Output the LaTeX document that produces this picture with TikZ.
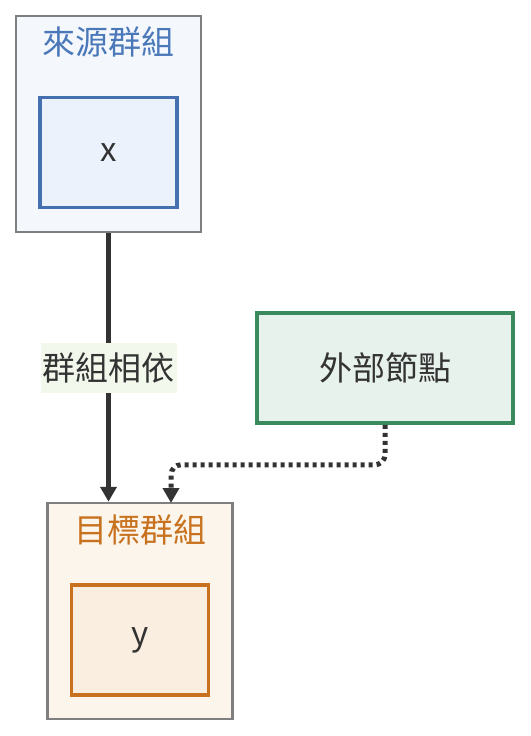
\documentclass[tikz,border=0pt]{standalone}
\usepackage{fontspec}
\setmainfont{Noto Sans CJK TC}
\usepackage{xcolor}
\usetikzlibrary{arrows.meta}

\definecolor{grpline}{HTML}{7F7F7F}
\definecolor{srcfill}{HTML}{F4F8FD}
\definecolor{srcline}{HTML}{4470B0}
\definecolor{srcnode}{HTML}{EBF2FB}
\definecolor{srctext}{HTML}{4A78B8}
\definecolor{tgtfill}{HTML}{FCF5EC}
\definecolor{tgtline}{HTML}{C8721F}
\definecolor{tgtnode}{HTML}{FAEEE0}
\definecolor{extfill}{HTML}{E8F2EC}
\definecolor{extline}{HTML}{3A8A5E}
\definecolor{lblfill}{HTML}{F2F8EC}
\definecolor{ink}{HTML}{333333}

\tikzset{
  grpbox/.style={draw=grpline,line width=2.5pt,minimum width=185pt,minimum height=216pt,inner sep=0pt},
  itembox/.style={line width=3.5pt,minimum width=137pt,minimum height=110pt,inner sep=0pt,text=ink,font=\fontsize{33}{38}\selectfont},
  title/.style={font=\fontsize{33}{38}\selectfont,inner sep=0pt},
  deparrow/.style={draw=ink,line width=5pt,-{Triangle[length=15pt,width=16pt]}},
  extarrow/.style={draw=ink,line width=5pt,dash pattern=on 4pt off 4pt,rounded corners=10pt,-{Triangle[length=15pt,width=16pt]}}
}

\begin{document}
\begin{tikzpicture}[x=1pt,y=-1pt]
\useasboundingbox (0,0) rectangle (530,736);
% source group
\node[grpbox,fill=srcfill] (srcgrp) at (108.5,124) {};
\node[title,text=srctext] (srctitle) at (108.5,42) {來源群組};
\node[itembox,draw=srcline,fill=srcnode] (x) at (108.5,152.5) {x};
% target group
\node[grpbox,fill=tgtfill] (tgtgrp) at (140,611) {};
\node[title,text=tgtline] (tgttitle) at (140,530) {目標群組};
\node[itembox,draw=tgtline,fill=tgtnode] (y) at (140,640) {y};
% external node
\node[itembox,draw=extline,fill=extfill,minimum width=256pt] (ext) at (385,368) {外部節點};
% edges
\coordinate (tgtin) at (171,503);
\draw[deparrow] (srcgrp.south) -- (srcgrp.south |- tgtgrp.north)
  node[midway,fill=lblfill,text=ink,font=\fontsize{33}{38}\selectfont,minimum width=136pt,minimum height=50pt,inner sep=0pt] (dep) {群組相依};
\draw[extarrow] (ext.south) -- ++(0,40) -| (tgtin);
\end{tikzpicture}
\end{document}
